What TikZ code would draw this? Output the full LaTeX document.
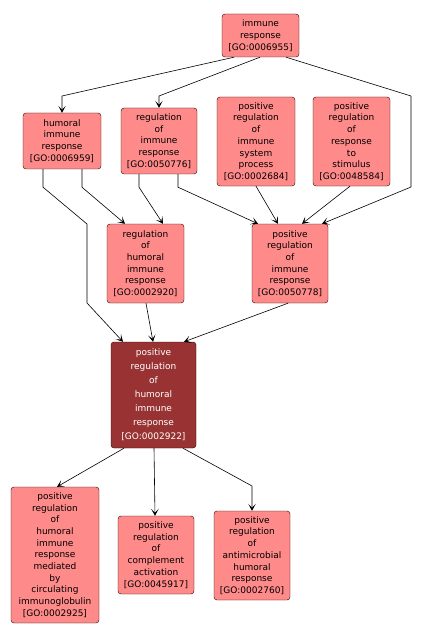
\documentclass[tikz,border=0pt]{standalone}
\usepackage{fontspec}
\setmainfont{DejaVu Sans}
\usetikzlibrary{arrows.meta}
\definecolor{termpink}{HTML}{FF8A8A}
\definecolor{focusred}{HTML}{993333}

\begin{document}
\begin{tikzpicture}[x=1pt,y=-1pt,
  term/.style={draw=black!85!red,fill=termpink,rounded corners=3pt,align=center,
    inner sep=0pt,font=\fontsize{9}{11.7}\selectfont},
  focus/.style={term,fill=focusred,text=white,font=\fontsize{9}{14}\selectfont},
  link/.style={-{Stealth[length=7pt,width=7.5pt,inset=4pt]},line width=0.6pt}]
\useasboundingbox (0,0) rectangle (420,639);

% The terms
\node[term,minimum width=77pt,minimum height=43pt] (ir) at (260.5,35.5)
  {immune\\response\\{[GO:0006955]}};
\node[term,minimum width=78pt,minimum height=56pt] (hir) at (62,141)
  {humoral\\immune\\response\\{[GO:0006959]}};
\node[term,minimum width=76pt,minimum height=66pt] (rir) at (159,141)
  {regulation\\of\\immune\\response\\{[GO:0050776]}};
\node[term,minimum width=78pt,minimum height=89pt] (prisp) at (256,141.5)
  {positive\\regulation\\of\\immune\\system\\process\\{[GO:0002684]}};
\node[term,minimum width=77pt,minimum height=89pt] (prrs) at (351.5,141.5)
  {positive\\regulation\\of\\response\\to\\stimulus\\{[GO:0048584]}};
\node[term,minimum width=77pt,minimum height=79pt] (rhir) at (145.5,263.5)
  {regulation\\of\\humoral\\immune\\response\\{[GO:0002920]}};
\node[term,minimum width=76pt,minimum height=79pt] (prir) at (290,263.5)
  {positive\\regulation\\of\\immune\\response\\{[GO:0050778]}};

% The term in focus
\node[focus,minimum width=85pt,minimum height=106pt] (prhir) at (153.5,395)
  {positive\\regulation\\of\\humoral\\immune\\response\\{[GO:0002922]}};

% Its children
\node[term,minimum width=88pt,minimum height=136pt] (prmed) at (55,555)
  {positive\\regulation\\of\\humoral\\immune\\response\\mediated\\by\\circulating\\immunoglobulin\\{[GO:0002925]}};
\node[term,minimum width=76pt,minimum height=78pt] (prca) at (156,555)
  {positive\\regulation\\of\\complement\\activation\\{[GO:0045917]}};
\node[term,minimum width=76pt,minimum height=89pt] (prahr) at (252,555.5)
  {positive\\regulation\\of\\antimicrobial\\humoral\\response\\{[GO:0002760]}};

% Links from immune response
\draw[link] ([xshift=-26.5pt]ir.south) -- (hir.north |- 0,96) -- (hir.north);
\draw[link] ([xshift=-0.5pt]ir.south) -- (rir.north |- 0,96) -- (rir.north);
\draw[link] ([xshift=25.5pt]ir.south) -- (411,96) -- (411,187) -- ([xshift=32pt]prir.north);

% Links of the second row
\draw[link] ([xshift=-19pt]hir.south) -- +(0,18) -- (87,224) -- (87,303) -- ([xshift=-30.5pt]prhir.north);
\draw[link] ([xshift=20pt]hir.south) -- +(0,18) -- ([xshift=-20.5pt]rhir.north);
\draw[link] ([xshift=-20pt]rir.south) -- +(0,13) -- ([xshift=17.5pt]rhir.north);
\draw[link] ([xshift=19pt]rir.south) -- +(0,13) -- ([xshift=-32pt]prir.north);
\draw[link] (prisp.south) -- ([xshift=-12pt]prir.north);
\draw[link] ([xshift=-1.5pt]prrs.south) -- ([xshift=12pt]prir.north);

% Links into the focus
\draw[link] ([xshift=0.5pt]rhir.south) -- ([xshift=-0.5pt]prhir.north);
\draw[link] ([xshift=-2pt]prir.south) -- ([xshift=30.5pt]prhir.north);

% Links out of the focus
\draw[link] ([xshift=-29.5pt]prhir.south) -- ([xshift=2pt]prmed.north);
\draw[link] ([xshift=0.5pt]prhir.south) -- ([xshift=-1pt]prca.north);
\draw[link] ([xshift=29.5pt]prhir.south) -- (prahr.north |- 0,486) -- (prahr.north);

\end{tikzpicture}
\end{document}
